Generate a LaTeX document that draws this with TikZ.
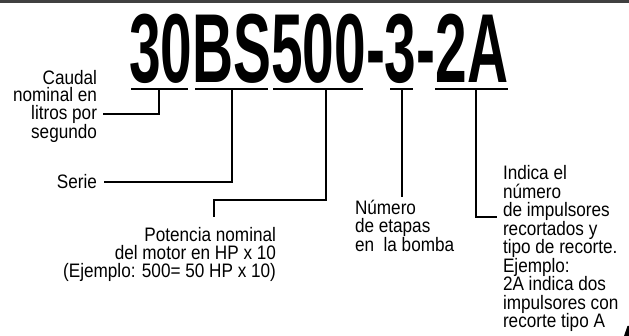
\documentclass[tikz,border=0pt]{standalone}
\usepackage{fontspec}
\setmainfont{Liberation Sans}
\newfontfamily\bigfam{Liberation Sans}[FakeStretch=0.58]
\newfontfamily\lblfam{Liberation Sans}[FakeStretch=0.88]
\begin{document}
\begin{tikzpicture}[x=1pt,y=-1pt,
  bigtxt/.style={font={\bigfam\bfseries\fontsize{98pt}{98pt}\selectfont},inner sep=0pt,outer sep=0pt,anchor=base west},
  lbl/.style={font={\lblfam\fontsize{19.5pt}{17.5pt}\selectfont},inner sep=0pt,outer sep=0pt},
  uline/.style={line width=1.8pt},
  conn/.style={line width=1.6pt}]
\useasboundingbox (0,0) rectangle (629,336);
\fill[black!75] (0,0) rectangle (629,3);
% code text
\node[bigtxt] (n30) at (129,83) {30};
\node[bigtxt] (nBS) at (n30.base east) {BS};
\node[bigtxt] (n500) at (nBS.base east) {500};
\node[bigtxt] (nd1) at (n500.base east) {-};
\node[bigtxt] (n3) at (nd1.base east) {3};
\node[bigtxt] (nd2) at (n3.base east) {-};
\node[bigtxt] (n2A) at (nd2.base east) {2A};
% underlines
\draw[uline] (131,89) -- (188,89);
\draw[uline] (195,89) -- (268,89);
\draw[uline] (273,89) -- (363,89);
\draw[uline] (390,89) -- (413,89);
\draw[uline] (435,89) -- (508,89);
% tick start points
\coordinate (t30) at (159,89);
\coordinate (tBS) at (232,89);
\coordinate (t500) at (326,89);
\coordinate (t3) at (402,89);
\coordinate (t2A) at (476,89);
% labels
\node[lbl,align=right,anchor=north east] (caudal) at (97,70) {Caudal\\nominal en\\litros por\\segundo};
\coordinate (caudalend) at (103,114);
\node[lbl,anchor=base east] (serie) at (97,189) {Serie};
\node[lbl,align=right,anchor=north east,font={\lblfam\fontsize{19.5pt}{18pt}\selectfont}] (pot) at (276,227) {Potencia nominal\\del motor en HP x 10\\(Ejemplo: 500= 50 HP x 10)};
\node[lbl,align=left,anchor=north west,font={\lblfam\fontsize{19.5pt}{17.5pt}\selectfont}] (etapas) at (355,200.5) {Número\\de etapas\\en\ \ la bomba};
\node[lbl,align=left,anchor=north west,font={\lblfam\fontsize{19.5pt}{18.5pt}\selectfont}] (indica) at (503,165.5) {Indica el\\número\\de impulsores\\recortados y\\tipo de recorte.\\Ejemplo:\\2A indica dos\\impulsores con\\recorte tipo A};
\coordinate (potend) at (214,217);
\coordinate (etapend) at (402,197);
\coordinate (indend) at (497,217);
% connectors
\draw[conn] (t30) |- (caudalend);
\draw[conn] (tBS) |- ([xshift=7pt]serie.east);
\draw[conn] (t500) -- (326,200) -| (potend);
\draw[conn] (t3) -- (etapend);
\draw[conn] (t2A) |- (indend);
% corner mark
\fill (624,336) -- (627.5,326) -- (629,326) -- (629,336) -- cycle;
\end{tikzpicture}
\end{document}
